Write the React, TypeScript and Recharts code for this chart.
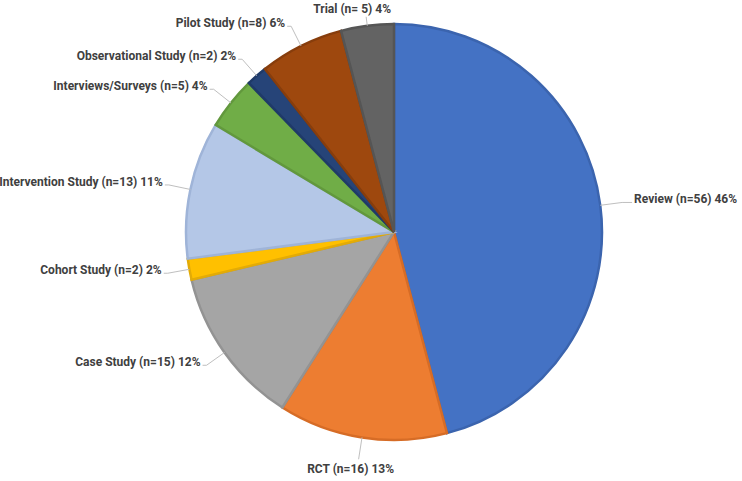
import React from 'react';
import { PieChart, Pie, Cell } from 'recharts';

const categories = [
  'Review',
  'RCT',
  'Case Study',
  'Cohort Study',
  'Intervention Study',
  'Interviews/Surveys',
  'Observational Study ',
  'Pilot Study',
  'Trial',
];
const counts = [56, 16, 15, 2, 13, 5, 2, 8, 5];
const percents = [46, 13, 12, 2, 11, 4, 2, 6, 4];
const countLabels = ['n=56', 'n=16', 'n=15', 'n=2', 'n=13', 'n=5', 'n=2', 'n=8', 'n= 5'];

const FILLS = ['#4472C4', '#ED7D31', '#A5A5A5', '#FFC000', '#B4C7E7', '#70AD47', '#264478', '#9E480E', '#636363'];
const STROKES = ['#3b64ae', '#d66c26', '#939393', '#e3ab06', '#9fb4d8', '#62983d', '#1f3a68', '#873d0c', '#555555'];

const data = categories.map((name, i) => ({
  name,
  value: counts[i],
  text: `${name} (${countLabels[i]}) ${percents[i]}%`,
}));

const RAD = Math.PI / 180;

// leader line out of the slice edge, short horizontal tail, then the label
const renderLabel = (props: any) => {
  const { cx, cy, midAngle, outerRadius, index } = props;
  const cos = Math.cos(-midAngle * RAD);
  const sin = Math.sin(-midAngle * RAD);
  let anchor: 'start' | 'end' | 'middle' = 'middle';
  if (cos > 0.35) anchor = 'start';
  else if (cos < -0.35) anchor = 'end';
  const isTop = anchor === 'middle' && sin < 0;
  const len = isTop ? 9 : 22;
  const x1 = cx + outerRadius * cos;
  const y1 = cy + outerRadius * sin;
  const x2 = cx + (outerRadius + len) * cos;
  const y2 = cy + (outerRadius + len) * sin;
  const x3 = anchor === 'start' ? x2 + 10 : anchor === 'end' ? x2 - 4 : x2;
  let tx = anchor === 'start' ? x3 + 2 : anchor === 'end' ? x3 - 2 : x3 - 8;
  let ty = y2 - 3;
  if (anchor === 'middle') {
    if (isTop) {
      tx = x3 - 14;
      ty = y2 - 8;
    } else {
      ty = y2 + 10;
    }
  }
  return (
    <g key={`lbl-${index}`}>
      <polyline points={`${x1},${y1} ${x2},${y2} ${x3},${y2}`} fill="none" stroke="#bfbfbf" strokeWidth={1} />
      <text
        x={tx}
        y={ty}
        textAnchor={anchor}
        dominantBaseline="central"
        fill="#404040"
        fontSize={12}
        fontWeight={700}
        fontFamily="Roboto, 'Open Sans', sans-serif"
      >
        {data[index].text}
      </text>
    </g>
  );
};

export default function App() {
  return (
    <div style={{ position: 'absolute', left: 0, top: 0, width: 742, height: 481, background: '#fff' }}>
      <PieChart width={742} height={481} margin={{ top: 0, right: 0, bottom: 0, left: 0 }}>
        <Pie
          data={data}
          dataKey="value"
          nameKey="name"
          cx={394}
          cy={232}
          outerRadius={208}
          startAngle={90}
          endAngle={-270}
          label={renderLabel}
          labelLine={false}
          isAnimationActive={false}
        >
          {data.map((_, i) => (
            <Cell key={`cell-${i}`} fill={FILLS[i]} stroke={STROKES[i]} strokeWidth={2.5} />
          ))}
        </Pie>
      </PieChart>
    </div>
  );
}
